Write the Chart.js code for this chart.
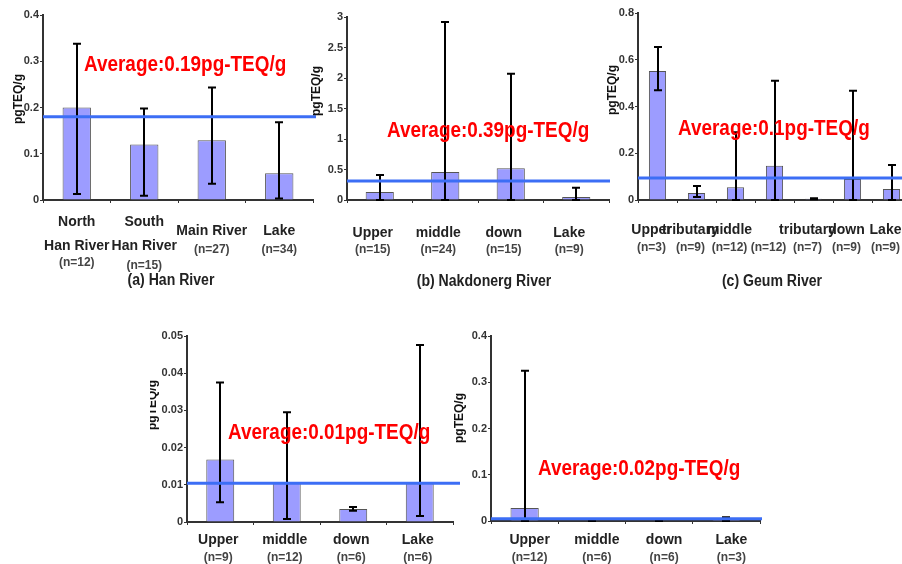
<!DOCTYPE html>
<html>
<head>
<meta charset="utf-8">
<title>PCDD/F TEQ by river basin</title>
<script src="https://cdn.jsdelivr.net/npm/chart.js@4.4.0/dist/chart.umd.min.js"></script>
<style>
  body { margin: 0; background: #fff; overflow: hidden; }
  #page { position: relative; width: 902px; height: 564px; overflow: hidden; font-family: Arial, "Liberation Sans", sans-serif; }
  .panel { position: absolute; }
  .avg { position: absolute; color: #ff0000; font: bold 22px Arial, "Liberation Sans", sans-serif; line-height: 22px;
         white-space: nowrap; transform-origin: 0 50%; transform: scaleX(0.86); }
  .title { position: absolute; font: bold 16px Arial, "Liberation Sans", sans-serif; color: #222; white-space: nowrap;
           transform: translate(-50%, -50%) scaleX(0.88); }
  .ytitle { position: absolute; font: bold 12px Arial, "Liberation Sans", sans-serif; color: #111; white-space: nowrap;
            transform: translate(-50%, -50%) rotate(-90deg); }
  .clip { position: absolute; overflow: hidden; }
</style>
</head>
<body>
<div id="page"></div>
<script>
// (a) Han River
var hanNames = [['North', 'Han River'], ['South', 'Han River'], ['Main River'], ['Lake']];
var hanCounts = ['(n=12)', '(n=15)', '(n=27)', '(n=34)'];
var hanMean = [0.2, 0.12, 0.129, 0.058];
var hanLow = [0.013, 0.009, 0.035, 0.003];
var hanHigh = [0.338, 0.198, 0.243, 0.168];
var hanAverage = 0.18;
var hanTicks = [0, 0.1, 0.2, 0.3, 0.4];

// (b) Nakdonerg River
var nakNames = [['Upper'], ['middle'], ['down'], ['Lake']];
var nakCounts = ['(n=15)', '(n=24)', '(n=15)', '(n=9)'];
var nakMean = [0.13, 0.46, 0.52, 0.05];
var nakLow = [0, 0, 0, 0];
var nakHigh = [0.41, 2.92, 2.07, 0.2];
var nakAverage = 0.31;
var nakTicks = [0, 0.5, 1, 1.5, 2, 2.5, 3];

// (c) Geum River
var geumNames = [['Upper'], ['tributary'], ['middle'], [''], ['tributary'], ['down'], ['Lake']];
var geumCounts = ['(n=3)', '(n=9)', '(n=12)', '(n=12)', '(n=7)', '(n=9)', '(n=9)'];
var geumMean = [0.552, 0.03, 0.055, 0.146, 0.005, 0.09, 0.047];
var geumLow = [0.47, 0.013, 0, 0, 0.003, 0, 0];
var geumHigh = [0.655, 0.06, 0.29, 0.51, 0.007, 0.467, 0.15];
var geumAverage = 0.094;
var geumTicks = [0, 0.2, 0.4, 0.6, 0.8];

// fourth basin
var dNames = [['Upper'], ['middle'], ['down'], ['Lake']];
var dCounts = ['(n=9)', '(n=12)', '(n=6)', '(n=6)'];
var dMean = [0.0168, 0.0106, 0.0035, 0.0104];
var dLow = [0.0053, 0.0008, 0.003, 0.0016];
var dHigh = [0.0375, 0.0295, 0.004, 0.0476];
var dAverage = 0.0104;
var dTicks = [0, 0.01, 0.02, 0.03, 0.04, 0.05];

// fifth basin
var eNames = [['Upper'], ['middle'], ['down'], ['Lake']];
var eCounts = ['(n=12)', '(n=6)', '(n=6)', '(n=3)'];
var eMean = [0.028, 0.001, 0.001, 0.003];
var eLow = [0, 0, 0, 0];
var eHigh = [0.325, 0.001, 0.001, 0.008];
var eAverage = 0.005;
var eTicks = [0, 0.1, 0.2, 0.3, 0.4];

var page = document.getElementById('page');

function addText(cls, text, x, y, parent) {
  var d = document.createElement('div');
  d.className = cls;
  d.textContent = text;
  d.style.left = x + 'px';
  d.style.top = y + 'px';
  (parent || page).appendChild(d);
  return d;
}

function makePanel(cfg) {
  var wrap = document.createElement('div');
  wrap.className = 'panel';
  wrap.style.left = cfg.box.left + 'px';
  wrap.style.top = cfg.box.top + 'px';
  var canvas = document.createElement('canvas');
  canvas.width = cfg.box.width;
  canvas.height = cfg.box.height;
  wrap.appendChild(canvas);
  page.appendChild(wrap);

  var plotTop = cfg.plot.top - cfg.box.top;
  var plotBottom = cfg.plot.bottom - cfg.box.top;
  var yw = cfg.plot.left - cfg.box.left;
  var padRight = cfg.box.left + cfg.box.width - cfg.plot.right;

  // whiskers from low to high with caps
  var errorBars = {
    id: 'errorBars',
    afterDatasetsDraw: function (chart) {
      var ctx = chart.ctx, y = chart.scales.y;
      var meta = chart.getDatasetMeta(0);
      ctx.save();
      ctx.strokeStyle = '#000';
      ctx.lineWidth = 2;
      meta.data.forEach(function (bar, i) {
        var x = Math.round(bar.x);
        var y1 = y.getPixelForValue(cfg.low[i]);
        var y2 = y.getPixelForValue(cfg.high[i]);
        ctx.beginPath();
        ctx.moveTo(x, y1); ctx.lineTo(x, y2);
        ctx.moveTo(x - cfg.cap, y1); ctx.lineTo(x + cfg.cap, y1);
        ctx.moveTo(x - cfg.cap, y2); ctx.lineTo(x + cfg.cap, y2);
        ctx.stroke();
      });
      ctx.restore();
    }
  };

  // basin average as a horizontal rule
  var avgLine = {
    id: 'avgLine',
    afterDraw: function (chart) {
      var ctx = chart.ctx, a = chart.chartArea;
      var yy = chart.scales.y.getPixelForValue(cfg.average);
      ctx.save();
      ctx.strokeStyle = 'rgb(60,110,245)';
      ctx.lineWidth = 3;
      ctx.beginPath();
      ctx.moveTo(a.left, yy);
      ctx.lineTo(a.right + cfg.lineExt, yy);
      ctx.stroke();
      ctx.restore();
    }
  };

  // category names and sample sizes under the axis
  var catLabels = {
    id: 'catLabels',
    afterDraw: function (chart) {
      var ctx = chart.ctx, xs = chart.scales.x;
      ctx.save();
      ctx.textAlign = 'center';
      ctx.textBaseline = 'middle';
      cfg.names.forEach(function (lines, i) {
        var x = xs.getPixelForValue(i) + cfg.dx;
        var rows = cfg.nameRows(i, lines.length);
        ctx.font = 'bold 14px Arial, "Liberation Sans", sans-serif';
        ctx.fillStyle = '#222';
        lines.forEach(function (t, k) { ctx.fillText(t, x, rows[k] - cfg.box.top); });
        ctx.font = 'bold 12px Arial, "Liberation Sans", sans-serif';
        ctx.fillStyle = '#444';
        ctx.fillText(cfg.counts[i], x, cfg.countRow(i) - cfg.box.top);
      });
      ctx.restore();
    }
  };

  var ticks = cfg.ticks;
  new Chart(canvas, {
    type: 'bar',
    data: {
      labels: cfg.counts,
      datasets: [{
        data: cfg.mean,
        backgroundColor: '#9c9cff',
        borderColor: '#555',
        borderWidth: 1,
        barPercentage: cfg.barPct,
        categoryPercentage: 1
      }]
    },
    options: {
      responsive: false,
      animation: false,
      layout: { padding: { top: plotTop, right: padRight, left: 0, bottom: 0 } },
      plugins: { legend: { display: false }, tooltip: { enabled: false } },
      scales: {
        x: {
          grid: { offset: true, drawOnChartArea: false, tickLength: 3, color: '#333' },
          border: { color: '#333', width: 2 },
          ticks: { display: false },
          afterFit: function (s) { s.height = cfg.box.height - plotBottom; }
        },
        y: {
          min: ticks[0],
          max: ticks[ticks.length - 1],
          ticks: {
            stepSize: ticks[1] - ticks[0],
            color: '#333',
            padding: 1,
            font: { family: 'Arial, "Liberation Sans", sans-serif', size: 11, weight: 'bold' },
            callback: function (v) { return String(parseFloat(v.toFixed(4))); }
          },
          grid: { drawOnChartArea: false, tickLength: 3, color: '#333' },
          border: { color: '#333', width: 2 },
          afterFit: function (s) { s.width = yw; }
        }
      }
    },
    plugins: [errorBars, avgLine, catLabels]
  });
}

// (a)
makePanel({
  box: { left: 0, top: 0, width: 320, height: 290 },
  plot: { left: 43, right: 313, top: 15, bottom: 200 },
  names: hanNames, counts: hanCounts, mean: hanMean, low: hanLow, high: hanHigh,
  average: hanAverage, ticks: hanTicks, barPct: 0.42, cap: 4, lineExt: 3, dx: 0,
  nameRows: function (i, n) { return n === 2 ? [222, 246] : [231]; },
  countRow: function (i) { return [263, 266, 250, 250][i]; }
});
// (b)
makePanel({
  box: { left: 320, top: 0, width: 300, height: 290 },
  plot: { left: 347, right: 609, top: 17, bottom: 200 },
  names: nakNames, counts: nakCounts, mean: nakMean, low: nakLow, high: nakHigh,
  average: nakAverage, ticks: nakTicks, barPct: 0.43, cap: 4, lineExt: 1, dx: -7,
  nameRows: function () { return [233]; },
  countRow: function () { return 250; }
});
// (c)
makePanel({
  box: { left: 618, top: 0, width: 300, height: 290 },
  plot: { left: 638, right: 911, top: 13, bottom: 200 },
  names: geumNames, counts: geumCounts, mean: geumMean, low: geumLow, high: geumHigh,
  average: geumAverage, ticks: geumTicks, barPct: 0.44, cap: 4, lineExt: 0, dx: -6,
  nameRows: function () { return [230]; },
  countRow: function () { return 248; }
});
// (d)
makePanel({
  box: { left: 155, top: 310, width: 310, height: 254 },
  plot: { left: 187, right: 453, top: 336, bottom: 522 },
  names: dNames, counts: dCounts, mean: dMean, low: dLow, high: dHigh,
  average: dAverage, ticks: dTicks, barPct: 0.42, cap: 4, lineExt: 7, dx: -2,
  nameRows: function () { return [540]; },
  countRow: function () { return 558; }
});
// (e)
makePanel({
  box: { left: 466, top: 310, width: 304, height: 254 },
  plot: { left: 491, right: 760, top: 336, bottom: 521 },
  names: eNames, counts: eCounts, mean: eMean, low: eLow, high: eHigh,
  average: eAverage, ticks: eTicks, barPct: 0.42, cap: 4, lineExt: 2, dx: 5,
  nameRows: function () { return [540]; },
  countRow: function () { return 558; }
});

// average annotations
addText('avg', 'Average:0.19pg-TEQ/g', 84, 53);
addText('avg', 'Average:0.39pg-TEQ/g', 387, 119);
addText('avg', 'Average:0.1pg-TEQ/g', 678, 117);
addText('avg', 'Average:0.01pg-TEQ/g', 228, 421);
addText('avg', 'Average:0.02pg-TEQ/g', 538, 457);

// panel captions
addText('title', '(a) Han River', 171, 280);
addText('title', '(b) Nakdonerg River', 484, 281);
addText('title', '(c) Geum River', 772, 281);

// axis titles
addText('ytitle', 'pgTEQ/g', 18, 99);
addText('ytitle', 'pgTEQ/g', 316, 91);
addText('ytitle', 'pgTEQ/g', 612, 90);
var clipD = document.createElement('div');
clipD.className = 'clip';
clipD.style.left = '150px'; clipD.style.top = '310px';
clipD.style.width = '20px'; clipD.style.height = '254px';
page.appendChild(clipD);
addText('ytitle', 'pgTEQ/g', 2, 95, clipD);
addText('ytitle', 'pgTEQ/g', 459, 418);
</script>
</body>
</html>
